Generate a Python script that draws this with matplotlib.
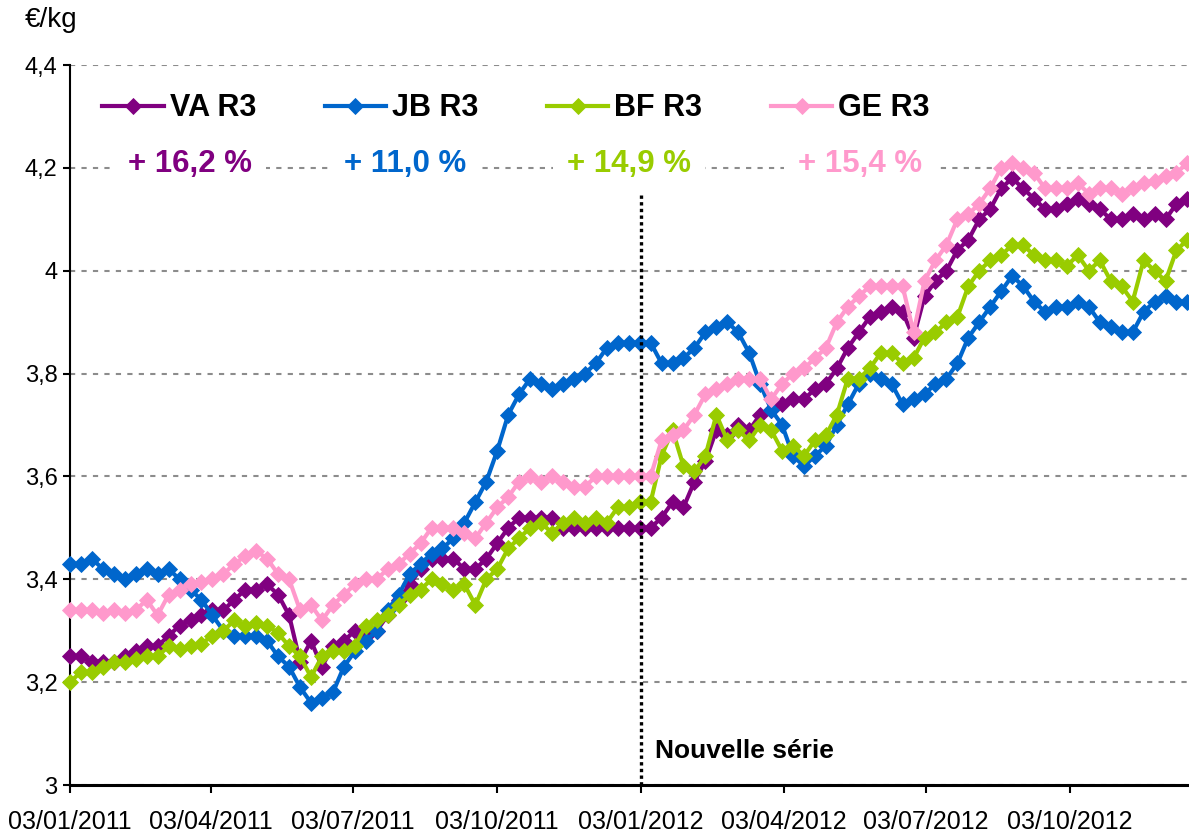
import numpy as np
import pandas as pd
import matplotlib
matplotlib.use("Agg")
import matplotlib.pyplot as plt
import matplotlib.dates as mdates

plt.rcParams['font.family'] = ['Liberation Sans', 'DejaVu Sans']

# weekly quotes, from the first week of 2011 to mid December 2012
weeks = pd.date_range('2011-01-03', periods=103, freq='7D')

va_r3 = [3.25, 3.25, 3.24, 3.24, 3.24, 3.25, 3.26, 3.27, 3.27, 3.29,
         3.31, 3.32, 3.33, 3.34, 3.34, 3.36, 3.38, 3.38, 3.39, 3.37,
         3.33, 3.24, 3.28, 3.23, 3.27, 3.28, 3.30, 3.29, 3.30, 3.33,
         3.36, 3.39, 3.42, 3.44, 3.44, 3.44, 3.42, 3.42, 3.44, 3.47,
         3.50, 3.52, 3.52, 3.52, 3.52, 3.50, 3.50, 3.50, 3.50, 3.50,
         3.50, 3.50, 3.50, 3.50, 3.52, 3.55, 3.54, 3.59, 3.63, 3.69,
         3.68, 3.70, 3.69, 3.72, 3.73, 3.74, 3.75, 3.75, 3.77, 3.78,
         3.81, 3.85, 3.88, 3.91, 3.92, 3.93, 3.92, 3.87, 3.95, 3.98,
         4.00, 4.04, 4.06, 4.10, 4.12, 4.16, 4.18, 4.16, 4.14, 4.12,
         4.12, 4.13, 4.14, 4.13, 4.12, 4.10, 4.10, 4.11, 4.10, 4.11,
         4.10, 4.13, 4.14]

jb_r3 = [3.43, 3.43, 3.44, 3.42, 3.41, 3.40, 3.41, 3.42, 3.41, 3.42,
         3.40, 3.38, 3.36, 3.33, 3.30, 3.29, 3.29, 3.29, 3.28, 3.25,
         3.23, 3.19, 3.16, 3.17, 3.18, 3.23, 3.26, 3.28, 3.30, 3.34,
         3.37, 3.41, 3.43, 3.45, 3.46, 3.48, 3.51, 3.55, 3.59, 3.65,
         3.72, 3.76, 3.79, 3.78, 3.77, 3.78, 3.79, 3.80, 3.82, 3.85,
         3.86, 3.86, 3.86, 3.86, 3.82, 3.82, 3.83, 3.85, 3.88, 3.89,
         3.90, 3.88, 3.84, 3.78, 3.73, 3.70, 3.64, 3.62, 3.64, 3.66,
         3.70, 3.74, 3.78, 3.80, 3.79, 3.78, 3.74, 3.75, 3.76, 3.78,
         3.79, 3.82, 3.87, 3.90, 3.93, 3.96, 3.99, 3.97, 3.94, 3.92,
         3.93, 3.93, 3.94, 3.93, 3.90, 3.89, 3.88, 3.88, 3.92, 3.94,
         3.95, 3.94, 3.94]

bf_r3 = [3.20, 3.22, 3.22, 3.23, 3.24, 3.24, 3.245, 3.25, 3.25, 3.27,
         3.265, 3.27, 3.275, 3.29, 3.30, 3.32, 3.31, 3.315, 3.31, 3.295,
         3.27, 3.25, 3.21, 3.25, 3.26, 3.26, 3.27, 3.31, 3.32, 3.33,
         3.35, 3.37, 3.38, 3.40, 3.39, 3.38, 3.39, 3.35, 3.40, 3.42,
         3.46, 3.48, 3.50, 3.51, 3.49, 3.51, 3.52, 3.51, 3.52, 3.51,
         3.54, 3.54, 3.55, 3.55, 3.64, 3.69, 3.62, 3.61, 3.64, 3.72,
         3.67, 3.69, 3.67, 3.70, 3.69, 3.65, 3.66, 3.64, 3.67, 3.68,
         3.72, 3.79, 3.79, 3.81, 3.84, 3.84, 3.82, 3.83, 3.87, 3.88,
         3.90, 3.91, 3.97, 4.00, 4.02, 4.03, 4.05, 4.05, 4.03, 4.02,
         4.02, 4.01, 4.03, 4.00, 4.02, 3.98, 3.97, 3.94, 4.02, 4.00,
         3.98, 4.04, 4.06]

ge_r3 = [3.34, 3.34, 3.34, 3.335, 3.34, 3.335, 3.34, 3.36, 3.33, 3.37,
         3.38, 3.39, 3.395, 3.40, 3.41, 3.43, 3.445, 3.455, 3.44, 3.41,
         3.40, 3.34, 3.35, 3.32, 3.35, 3.37, 3.39, 3.40, 3.40, 3.42,
         3.43, 3.45, 3.47, 3.50, 3.50, 3.50, 3.49, 3.48, 3.51, 3.54,
         3.56, 3.59, 3.60, 3.59, 3.60, 3.59, 3.58, 3.58, 3.60, 3.60,
         3.60, 3.60, 3.60, 3.60, 3.67, 3.68, 3.69, 3.72, 3.76, 3.77,
         3.78, 3.79, 3.79, 3.79, 3.75, 3.78, 3.80, 3.81, 3.83, 3.85,
         3.90, 3.93, 3.95, 3.97, 3.97, 3.97, 3.97, 3.88, 3.98, 4.02,
         4.05, 4.10, 4.11, 4.13, 4.16, 4.20, 4.21, 4.20, 4.19, 4.16,
         4.16, 4.16, 4.17, 4.15, 4.16, 4.16, 4.15, 4.16, 4.17, 4.175,
         4.185, 4.19, 4.21]

series_names = ['VA R3', 'JB R3', 'BF R3', 'GE R3']
changes = ['+ 16,2 %', '+ 11,0 %', '+ 14,9 %', '+ 15,4 %']
colors = ['#800080', '#0066CC', '#99CC00', '#FF99CC']

tick_dates = ['2011-01-03', '2011-04-03', '2011-07-03', '2011-10-03',
              '2012-01-03', '2012-04-03', '2012-07-03', '2012-10-03']
y_ticks = [3, 3.2, 3.4, 3.6, 3.8, 4, 4.2, 4.4]
y_labels = ['3', '3,2', '3,4', '3,6', '3,8', '4', '4,2', '4,4']
new_series_date = pd.Timestamp('2012-01-03')

fig = plt.figure(figsize=(11.89, 8.38), dpi=100)
ax = fig.add_axes([70/1189, 53/838, 1119/1189, 720/838])

all_series = [va_r3, jb_r3, bf_r3, ge_r3]
for name, vals, col in zip(series_names, all_series, colors):
    ax.plot(weeks, vals, color=col, lw=3.0, marker='D', markersize=8.5,
            markeredgewidth=0.6, label=name, clip_on=False, zorder=3)

# break in the series
ax.plot([new_series_date, new_series_date], [3, 4.2], color='black',
        lw=2.4, linestyle=(0, (1, 1)), zorder=5)
ax.text(new_series_date + pd.Timedelta(days=9), 3.066, 'Nouvelle série',
        fontsize=19, fontweight='bold', ha='left', va='center')

# axes
left = mdates.date2num(pd.Timestamp('2011-01-03'))
ax.set_xlim(left, left + 715)
ax.set_ylim(3, 4.4)
ax.set_yticks(y_ticks)
ax.set_yticklabels(y_labels, fontsize=17)
ax.set_xticks([mdates.date2num(pd.Timestamp(d)) for d in tick_dates])
ax.set_xticklabels([pd.Timestamp(d).strftime('%d/%m/%Y') for d in tick_dates],
                   fontsize=18)
ax.tick_params(axis='y', length=5, width=1.5, direction='out', pad=4)
ax.tick_params(axis='x', length=6, width=1.5, direction='out', pad=12)
ax.yaxis.grid(True, color='#8c8c8c', lw=1.5, linestyle=(0, (2.5, 3)))
ax.set_axisbelow(True)
for s in ['top', 'right']:
    ax.spines[s].set_visible(False)
ax.spines['left'].set_linewidth(1.5)
ax.spines['bottom'].set_linewidth(2.2)

leg = ax.legend(loc='center left', bbox_to_anchor=(0.029, 0.94), ncol=4,
                frameon=False, borderpad=0, borderaxespad=0,
                handlelength=2.0, handletextpad=0.2, columnspacing=2.25,
                prop={'size': 22, 'weight': 'bold'})

text_x = [0.1072, 0.2994, 0.4996, 0.706]
for tx, lab, col in zip(text_x, changes, colors):
    ax.text(tx, 0.8625, lab, transform=ax.transAxes, color=col,
            fontsize=22.5, fontweight='bold', ha='center', va='center',
            bbox=dict(boxstyle='square,pad=0.45', fc='white', ec='none'),
            zorder=6)

fig.text(25/1189, 1 - 20/838, '€/kg', fontsize=20, ha='left', va='center')

fig.savefig('out.png', dpi=100)
